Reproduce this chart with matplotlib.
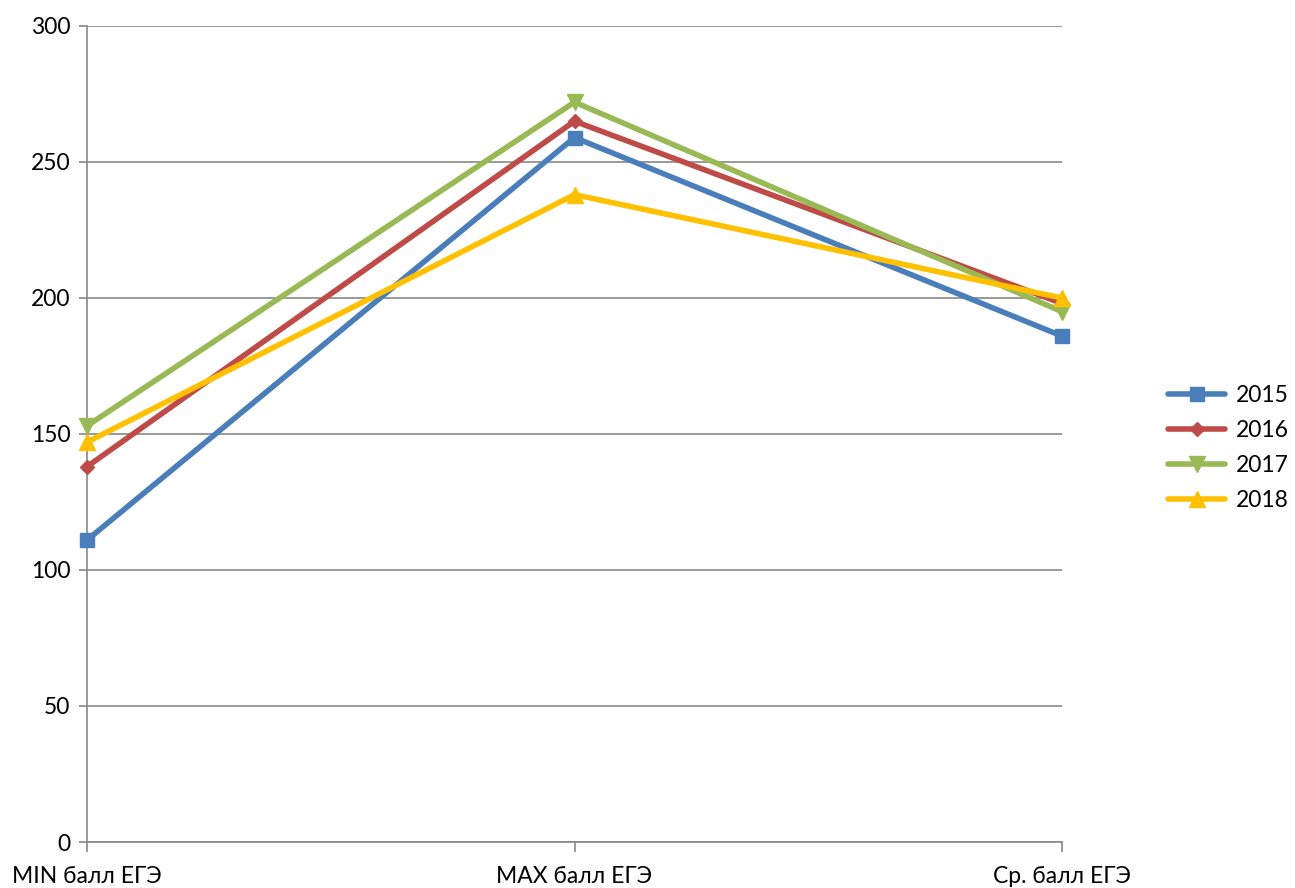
import matplotlib
matplotlib.use("Agg")
import matplotlib.pyplot as plt

plt.rcParams['font.family'] = ['Lato', 'DejaVu Sans']

categories = ['MIN балл ЕГЭ', 'MAX балл ЕГЭ', 'Ср. балл ЕГЭ']
years = ['2015', '2016', '2017', '2018']
scores = {
    '2015': [111, 259, 186],
    '2016': [138, 265, 198],
    '2017': [153, 272, 195],
    '2018': [147, 238, 200],
}
colors = ['#4a7ebb', '#be4b48', '#98b954', '#ffc000']
markers = ['s', 'D', 'v', '^']
msizes = [10, 7, 11, 11]

fig = plt.figure(figsize=(12.95, 8.88), dpi=100)
ax = fig.add_axes([87 / 1295, 1 - 842 / 888, (1062 - 87) / 1295, (842 - 26) / 888])

x = list(range(len(categories)))
for year, c, m, ms in zip(years, colors, markers, msizes):
    ax.plot(x, scores[year], color=c, lw=4, marker=m, markersize=ms,
            label=year, solid_capstyle='round', zorder=3, clip_on=False)

ax.set_xlim(0, 2)
ax.set_ylim(0, 300)
ax.set_yticks(range(0, 301, 50))
ax.set_xticks(x)
ax.set_xticklabels(categories)
ax.yaxis.grid(True, color='#888888', lw=1.2)
ax.set_axisbelow(True)
for side in ['top', 'right']:
    ax.spines[side].set_visible(False)
for side in ['left', 'bottom']:
    ax.spines[side].set_color('#888888')
    ax.spines[side].set_linewidth(1.2)
ax.tick_params(axis='both', colors='#888888', labelcolor='black', labelsize=16.5)
ax.tick_params(axis='x', length=7, width=1.2, pad=10)
ax.tick_params(axis='y', length=6, width=1.2, pad=6)

ax.legend(loc='center left', bbox_to_anchor=(1168 / 1295, 1 - 448 / 888),
          bbox_transform=fig.transFigure, frameon=False, borderaxespad=0,
          borderpad=0, fontsize=16.5, handlelength=2.5, handletextpad=0.45,
          labelspacing=0.6)

fig.savefig('out.png', dpi=100)
